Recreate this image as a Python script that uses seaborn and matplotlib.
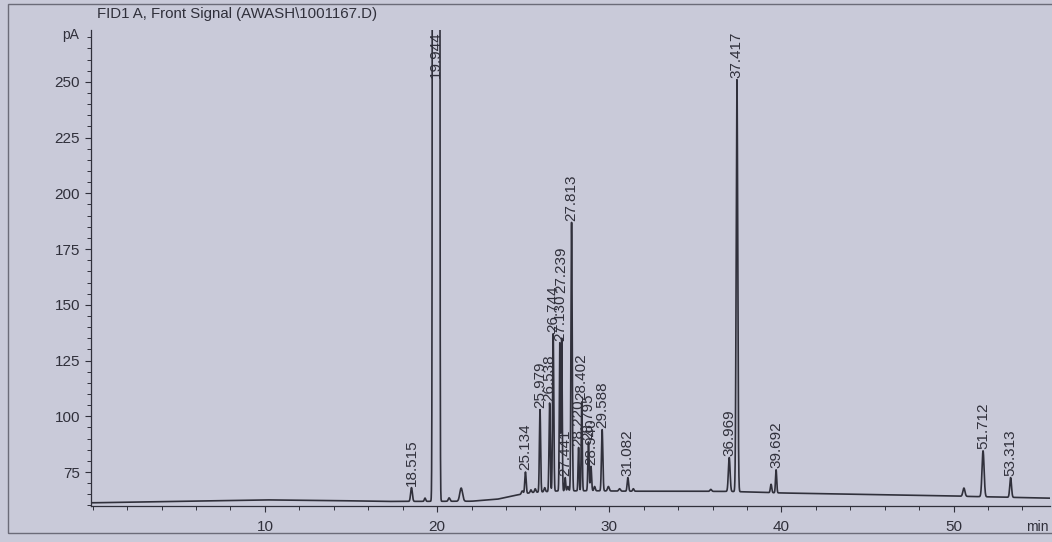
import numpy as np
import pandas as pd
import matplotlib
matplotlib.use("Agg")
import matplotlib.pyplot as plt
from matplotlib.patches import Rectangle
from matplotlib.ticker import MultipleLocator
import seaborn as sns

# ================= DATA =================
title = "FID1 A, Front Signal (AWASH\\1001167.D)"

# labelled peaks: retention time (min), apex (pA), width (sigma, min)
peak_rt = [18.515, 19.944, 25.134, 25.979, 26.538, 26.744, 27.130, 27.239,
           27.441, 27.813, 28.220, 28.402, 28.795, 28.940, 29.588, 31.082,
           36.969, 37.417, 39.692, 51.712, 53.313]
peak_apex = [68.0, 1.0e6, 75.0, 103.0, 106.0, 137.0, 133.0, 135.0,
             72.5, 187.0, 86.0, 106.5, 88.5, 77.5, 94.0, 72.5,
             81.5, 251.0, 76.0, 84.5, 72.5]
peak_sigma = [0.05, 0.055, 0.04, 0.035, 0.035, 0.035, 0.03, 0.03,
              0.03, 0.035, 0.03, 0.03, 0.035, 0.035, 0.04, 0.04,
              0.05, 0.045, 0.035, 0.06, 0.05]

# small unlabelled peaks
minor_rt = [19.3, 20.7, 21.4, 24.95, 25.45, 25.7, 26.25, 27.6, 29.15, 29.95,
            30.6, 31.4, 35.9, 39.4, 50.6]
minor_apex = [63.3, 63.4, 67.8, 66.5, 67.0, 67.5, 68.0, 68.5, 68.5, 68.5,
              67.5, 67.5, 67.2, 69.5, 67.8]
minor_sigma = [0.04, 0.05, 0.08, 0.05, 0.04, 0.04, 0.04, 0.04, 0.04, 0.05,
               0.05, 0.04, 0.05, 0.04, 0.06]

# baseline drift read at a few times
base_t = [0.0, 5.0, 10.0, 14.0, 17.0, 22.0, 23.5, 24.5, 25.5, 27.0, 29.0,
          31.0, 37.0, 40.0, 45.0, 50.0, 56.0]
base_pA = [61.2, 61.8, 62.5, 62.2, 61.8, 61.9, 62.8, 64.5, 65.8, 66.5, 66.6,
           66.4, 66.3, 65.6, 64.9, 64.2, 63.2]

x_ticks = [10, 20, 30, 40, 50]
y_ticks = [75, 100, 125, 150, 175, 200, 225, 250]

# ================= TRACE =================
t = np.arange(-0.1, 55.7, 0.004)
base = np.interp(t, base_t, base_pA)
signal = base.copy()
for rt, apex, s in zip(peak_rt + minor_rt, peak_apex + minor_apex,
                       peak_sigma + minor_sigma):
    amp = apex - np.interp(rt, base_t, base_pA)
    signal += amp * np.exp(-0.5 * ((t - rt) / s) ** 2)

df = pd.DataFrame({"min": t, "pA": signal})

# ================= STYLE =================
paper = "#c9cad9"
ink = "#30303b"
sns.set_theme(style="ticks")
plt.rcParams["font.family"] = ["Liberation Sans", "DejaVu Sans"]

fig = plt.figure(figsize=(10.52, 5.42), dpi=100, facecolor=paper)
ax = fig.add_axes([0.0865, 0.0664, 0.9116, 0.878])
ax.set_facecolor(paper)

sns.lineplot(data=df, x="min", y="pA", ax=ax, color=ink, linewidth=1.2,
             estimator=None, sort=False)

ymin, ymax = 59.75, 273.2
ax.set_xlim(-0.1, 55.6)
ax.set_ylim(ymin, ymax)

ax.set_xticks(x_ticks)
ax.set_yticks(y_ticks)
ax.xaxis.set_minor_locator(MultipleLocator(2))
ax.yaxis.set_minor_locator(MultipleLocator(5))
ax.tick_params(axis="both", which="major", length=4, width=0.8, colors=ink,
               labelsize=11, pad=4)
ax.tick_params(axis="x", which="major", pad=6)
ax.tick_params(axis="both", which="minor", length=3, width=0.7, colors=ink)
ax.set_xlabel("")
ax.set_ylabel("")
for side in ["top", "right"]:
    ax.spines[side].set_visible(False)
for side in ["left", "bottom"]:
    ax.spines[side].set_color(ink)
    ax.spines[side].set_linewidth(0.9)

ax.text(-0.012, 0.99, "pA", transform=ax.transAxes, ha="right", va="center",
        fontsize=10, color=ink)
ax.text(0.998, -0.045, "min", transform=ax.transAxes, ha="right", va="center",
        fontsize=10, color=ink)

# retention time labels, stacked when two sit on top of each other
label_len = 21.5
placed = []
for rt, apex in zip(peak_rt, peak_apex):
    y0 = min(apex, 251.0) + 0.8
    for prt, py0 in placed:
        if abs(prt - rt) < 0.12 and py0 - label_len < y0 < py0 + label_len:
            y0 = py0 + label_len
    placed.append((rt, y0))
    ax.text(rt, y0, f"{rt:.3f}", rotation=90, ha="center", va="bottom",
            fontsize=11, color=ink, clip_on=False)

fig.text(0.092, 0.974, title, ha="left", va="center", fontsize=10.8, color=ink)

# printout frame
fig.patches.append(Rectangle((8 / 1052, 1 - 533 / 542), 1.2, 529 / 542,
                             transform=fig.transFigure, fill=False,
                             edgecolor="#6b6b78", linewidth=1.0))

fig.savefig("out.png", dpi=100, facecolor=paper)
